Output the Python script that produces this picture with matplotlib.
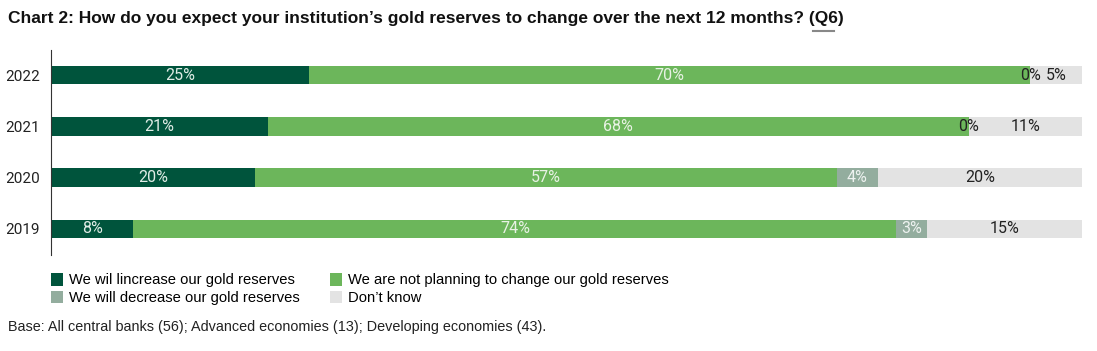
import matplotlib.pyplot as plt
from matplotlib.lines import Line2D
import numpy as np

# Data
years = ["2019", "2020", "2021", "2022"]
increase = [8, 20, 21, 25]
no_change = [74, 57, 68, 70]
decrease = [3, 4, 0, 0]
dont_know = [15, 20, 11, 5]

series_names = ["We wil lincrease our gold reserves",
                "We are not planning to change our gold reserves",
                "We will decrease our gold reserves",
                "Don\u2019t know"]
colors = ["#00543C", "#6CB65B", "#93AD9E", "#E3E3E3"]
label_colors = ["#E0ECE6", "#E8F2E4", "#EEF2F0", "#222222"]

fig = plt.figure(figsize=(10.97, 3.51), dpi=100)
ax = fig.add_axes([51/1097, 1 - 254.5/351, 1031/1097, 205/351])

data = np.array([increase, no_change, decrease, dont_know], dtype=float)
totals = data.sum(axis=0)
shares = data / totals * 100  # each bar spans the full width

y = np.arange(len(years))
left = np.zeros(len(years))
for i in range(4):
    ax.barh(y, shares[i], left=left, height=0.36, color=colors[i],
            label=series_names[i], edgecolor="none")
    for j in range(len(years)):
        c = label_colors[i] if data[i, j] > 0 else "#222222"
        ax.text(left[j] + shares[i, j] / 2, y[j], "%d%%" % data[i, j],
                ha="center", va="center", fontsize=11.5, color=c,
                family="Roboto")
    left += shares[i]

ax.set_xlim(0, 100)
ax.set_ylim(-0.5, 3.5)
ax.set_yticks(y)
ax.set_yticklabels(years, fontsize=11, family="Roboto", color="#222222")
ax.tick_params(axis="y", length=0, pad=8)
ax.set_xticks([])
for s in ["top", "right", "bottom"]:
    ax.spines[s].set_visible(False)
ax.spines["left"].set_color("#333333")

fig.text(8/1097, 1 - 19/351, "Chart 2: How do you expect your institution\u2019s gold reserves to change over the next 12 months? (Q6)",
         fontsize=12.5, fontweight="bold", family="Liberation Sans", va="center", color="#111111")
# link underline under Q6
fig.add_artist(Line2D([813/1097, 834/1097], [1 - 31/351, 1 - 31/351],
                      color="#888888", lw=1.5, transform=fig.transFigure))

h, l = ax.get_legend_handles_labels()
order = [0, 2, 1, 3]
fig.legend([h[k] for k in order], [l[k] for k in order], ncol=2,
           loc="upper left", bbox_to_anchor=(51/1097, 1 - 273/351),
           frameon=False, prop={"family": "Liberation Sans", "size": 10.6},
           handlelength=0.8, handleheight=0.95, handletextpad=0.4,
           columnspacing=2.1, labelspacing=0.22, borderpad=0, borderaxespad=0)

fig.text(8/1097, 1 - 327/351, "Base: All central banks (56); Advanced economies (13); Developing economies (43).",
         fontsize=10.4, family="Liberation Sans", va="center", color="#222222")

plt.savefig("out.png", dpi=100)
